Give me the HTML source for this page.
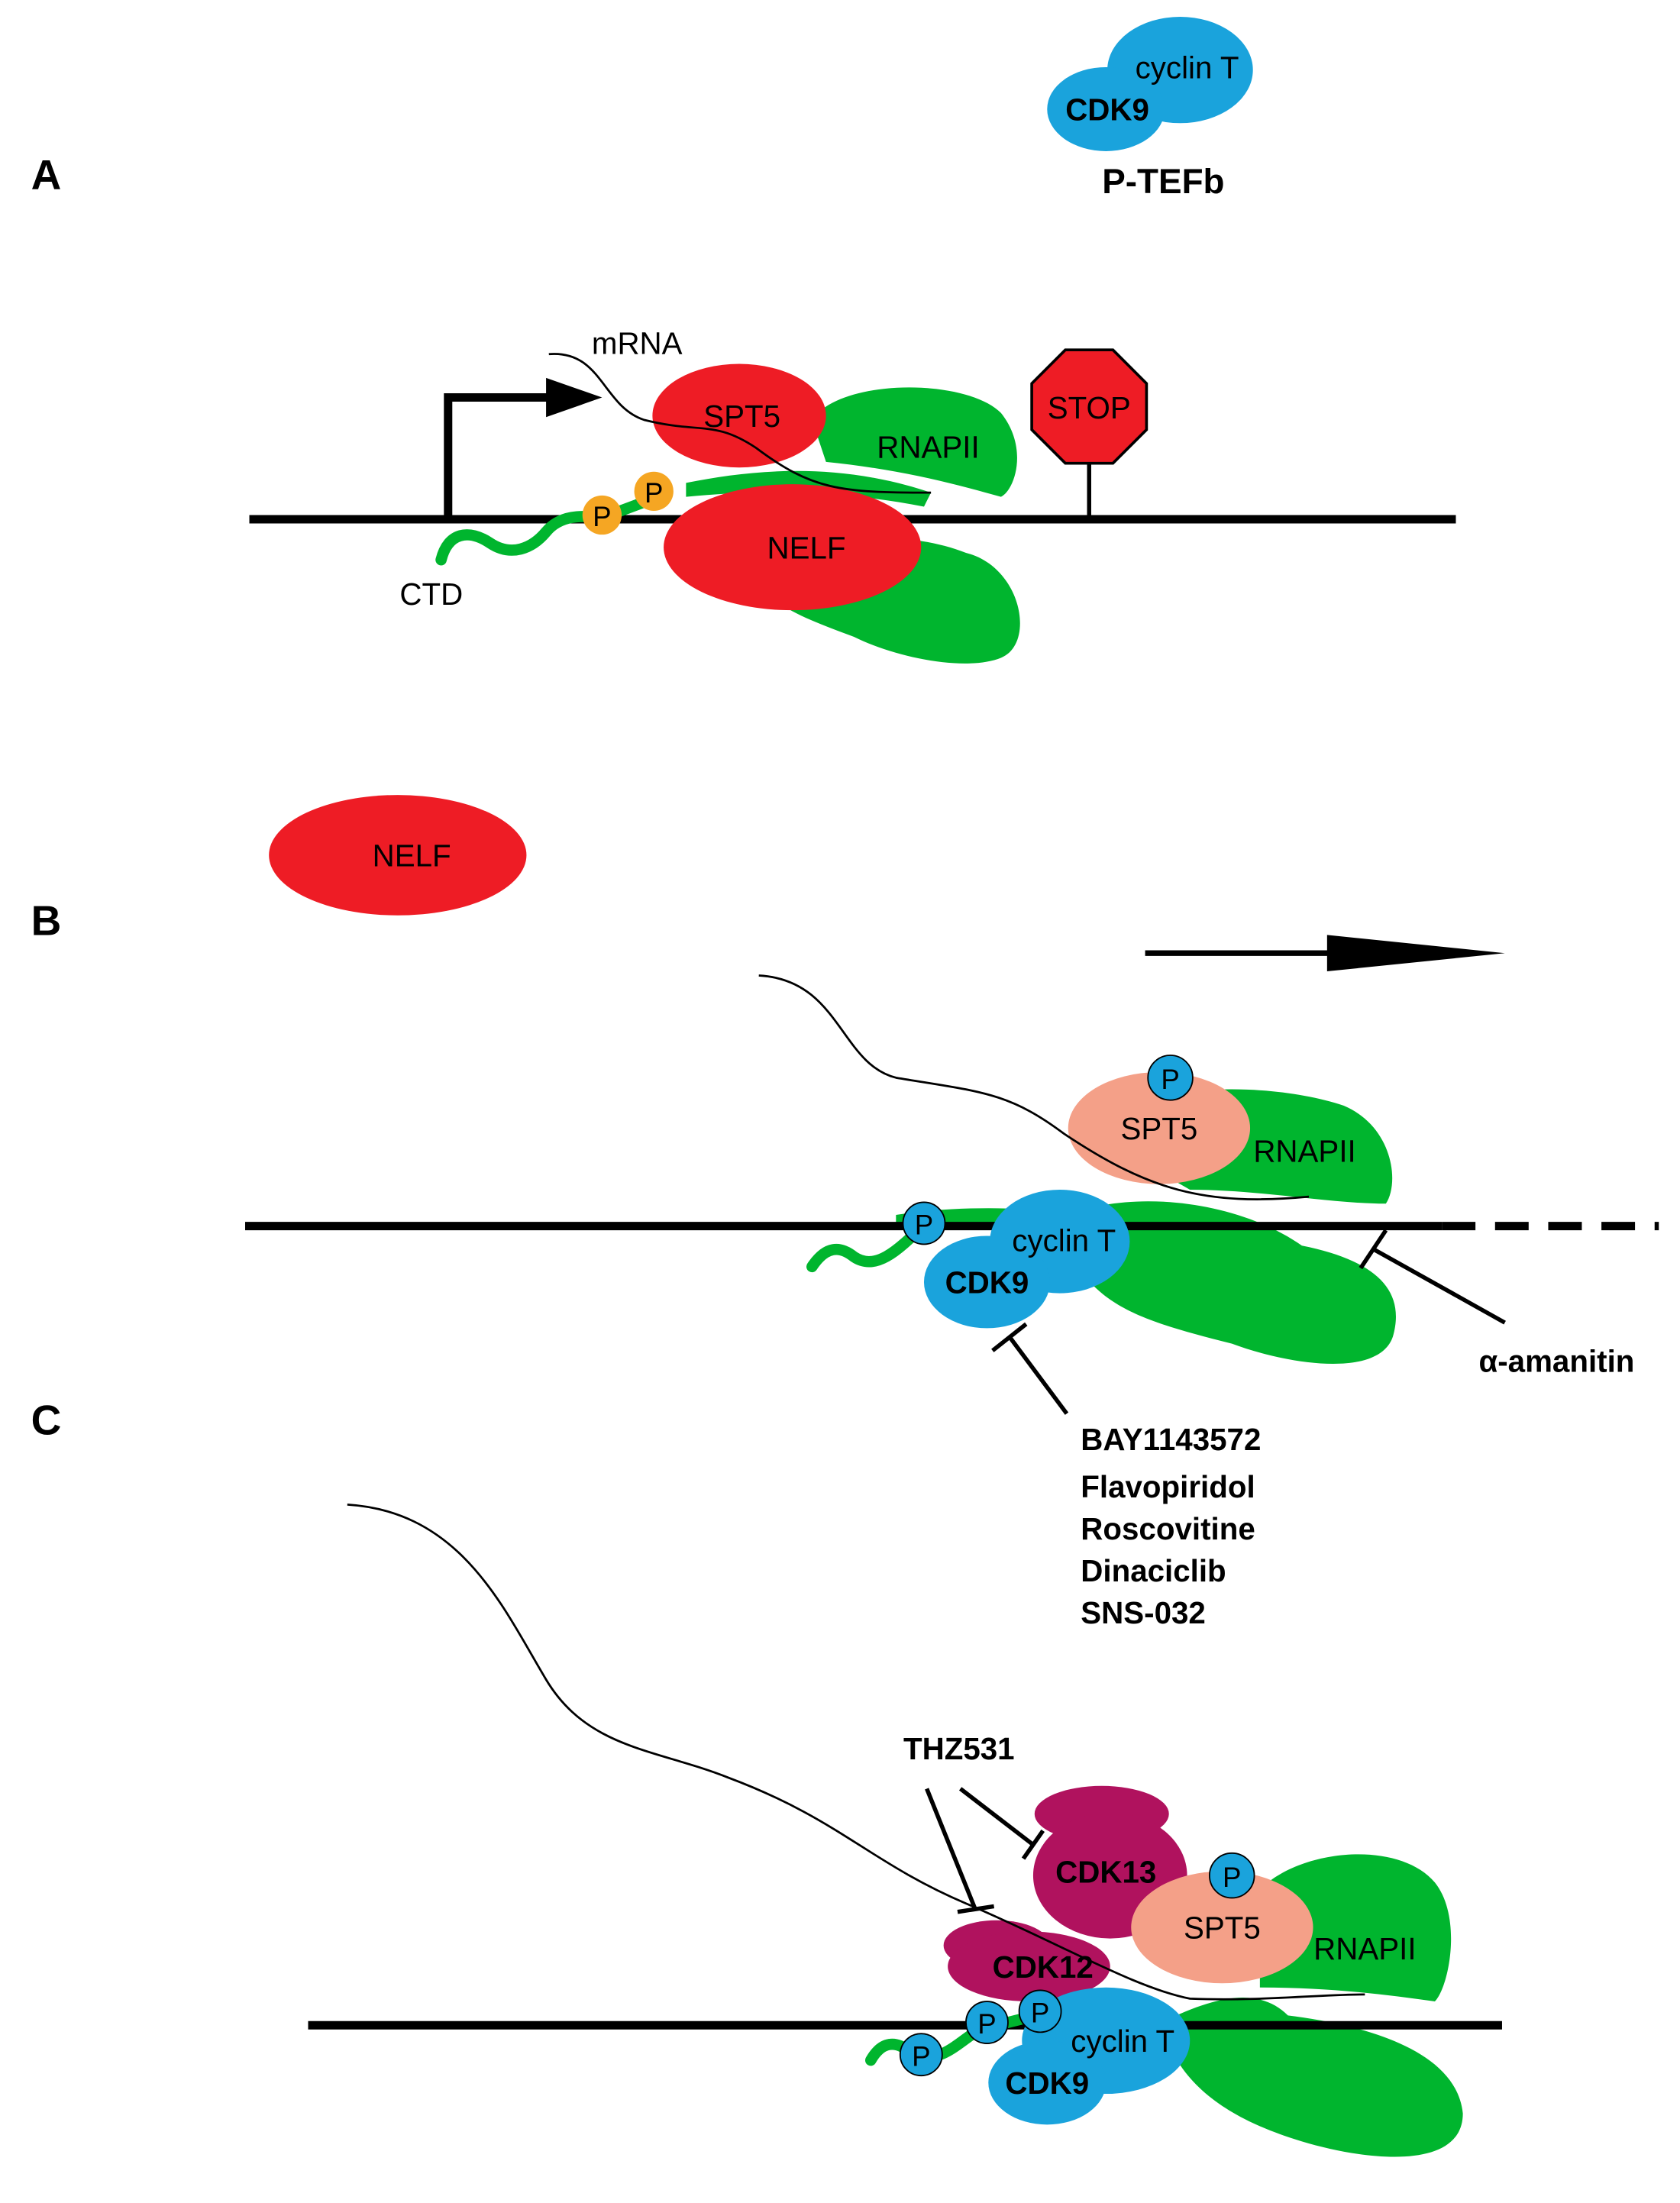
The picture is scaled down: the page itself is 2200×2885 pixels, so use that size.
<!DOCTYPE html>
<html><head><meta charset="utf-8"><style>
html,body{margin:0;padding:0;background:#fff}
svg{display:block}
text{font-family:"Liberation Sans",sans-serif}
</style></head><body>
<svg width="2200" height="2885" viewBox="0 0 1200 1574" xmlns="http://www.w3.org/2000/svg">
<rect width="1200" height="1574" fill="#fff"/>
<g font-weight="bold" font-size="30" fill="#000">
<text x="22" y="135">A</text><text x="22" y="668">B</text><text x="22" y="1025">C</text>
</g>
<!-- P-TEFb -->
<ellipse cx="843" cy="50" rx="52" ry="38" fill="#1aa3dc"/>
<ellipse cx="790" cy="78" rx="42" ry="30" fill="#1aa3dc"/>
<text x="848" y="56" font-size="22" text-anchor="middle">cyclin T</text>
<text x="791" y="86" font-size="22" font-weight="bold" text-anchor="middle">CDK9</text>
<text x="831" y="138" font-size="25" font-weight="bold" text-anchor="middle">P-TEFb</text>

<!-- Panel A -->
<path d="M580 300 C600 270 690 270 715 295 C735 320 725 350 715 355 C680 345 640 335 590 330 Z" fill="#00b52e"/>
<path d="M530 395 C560 385 640 375 690 395 C730 405 740 460 715 470 C690 480 640 470 610 455 C570 440 540 430 530 395 Z" fill="#00b52e"/>
<path d="M490 345 C540 335 600 330 665 352 L660 362 C600 350 540 350 490 355 Z" fill="#00b52e"/>
<line x1="178" y1="371" x2="1040" y2="371" stroke="#000" stroke-width="6"/>
<path d="M320 371 V284 H398" fill="none" stroke="#000" stroke-width="6"/>
<polygon points="390,270 430,284 390,298" fill="#000"/>
<ellipse cx="528" cy="297" rx="62" ry="37" fill="#ee1c25"/>
<ellipse cx="566" cy="391" rx="92" ry="45" fill="#ee1c25"/>
<text x="530" y="305" font-size="22" text-anchor="middle">SPT5</text>
<text x="576" y="399" font-size="22" text-anchor="middle">NELF</text>
<text x="663" y="327" font-size="22" text-anchor="middle">RNAPII</text>
<path d="M392 253 C430 250 430 290 460 300 C500 310 510 300 540 320 C580 350 600 352 665 352" fill="none" stroke="#000" stroke-width="1.5"/>
<path d="M315 400 C320 380 335 378 350 388 C365 398 380 392 390 380 C400 368 415 368 430 370 L470 355" fill="none" stroke="#00b52e" stroke-width="8" stroke-linecap="round"/>
<circle cx="430" cy="368" r="14" fill="#f5a623"/><text x="430" y="376" font-size="20" text-anchor="middle">P</text>
<circle cx="467" cy="351" r="14" fill="#f5a623"/><text x="467" y="359" font-size="20" text-anchor="middle">P</text>
<text x="308" y="432" font-size="22" text-anchor="middle">CTD</text>
<line x1="778" y1="330" x2="778" y2="371" stroke="#000" stroke-width="3"/>
<polygon points="761,250 795,250 819,274 819,307 795,331 761,331 737,307 737,274" fill="#ee1c25" stroke="#000" stroke-width="2"/>
<text x="778" y="299" font-size="22" text-anchor="middle">STOP</text>
<text x="455" y="253" font-size="22" text-anchor="middle">mRNA</text>

<!-- Panel B -->
<ellipse cx="284" cy="611" rx="92" ry="43" fill="#ee1c25"/>
<text x="294" y="619" font-size="22" text-anchor="middle">NELF</text>
<line x1="818" y1="681" x2="955" y2="681" stroke="#000" stroke-width="4"/>
<polygon points="948,668 1075,681 948,694" fill="#000"/>
<path d="M780 810 C800 775 900 770 960 790 C995 805 1000 845 990 860 C950 860 900 850 850 850 Z" fill="#00b52e"/>
<path d="M760 870 C800 850 880 855 930 890 C980 900 1005 920 995 955 C985 985 920 975 880 960 C820 945 790 935 770 905 Z" fill="#00b52e"/>
<path d="M640 868 C680 862 720 862 760 866 L760 880 C720 878 680 878 640 878 Z" fill="#00b52e"/>
<line x1="175" y1="876" x2="1030" y2="876" stroke="#000" stroke-width="6"/>
<line x1="1030" y1="876" x2="1185" y2="876" stroke="#000" stroke-width="6" stroke-dasharray="24,14"/>
<ellipse cx="828" cy="806" rx="65" ry="40" fill="#f4a088"/>
<circle cx="836" cy="770" r="16" fill="#1aa3dc" stroke="#000" stroke-width="1"/><text x="836" y="778" font-size="20" text-anchor="middle">P</text>
<text x="828" y="814" font-size="22" text-anchor="middle">SPT5</text>
<text x="932" y="830" font-size="22" text-anchor="middle">RNAPII</text>
<path d="M542 697 C600 700 600 760 640 770 C700 780 720 780 760 810 C820 850 860 862 935 855" fill="none" stroke="#000" stroke-width="1.5"/>
<ellipse cx="757" cy="887" rx="50" ry="37" fill="#1aa3dc"/>
<ellipse cx="705" cy="916" rx="45" ry="33" fill="#1aa3dc"/>
<text x="760" y="894" font-size="22" text-anchor="middle">cyclin T</text>
<text x="705" y="924" font-size="22" font-weight="bold" text-anchor="middle">CDK9</text>
<path d="M580 905 C590 890 600 890 610 898 C625 908 640 895 660 875" fill="none" stroke="#00b52e" stroke-width="8" stroke-linecap="round"/>
<circle cx="660" cy="874" r="15" fill="#1aa3dc" stroke="#000" stroke-width="1"/><text x="660" y="882" font-size="20" text-anchor="middle">P</text>
<line x1="1075" y1="945" x2="982" y2="893" stroke="#000" stroke-width="3"/>
<line x1="972" y1="906" x2="990" y2="879" stroke="#000" stroke-width="3"/>
<text x="1112" y="980" font-size="22" font-weight="bold" text-anchor="middle">α-amanitin</text>
<line x1="762" y1="1010" x2="721" y2="955" stroke="#000" stroke-width="3"/>
<line x1="709" y1="965" x2="733" y2="946" stroke="#000" stroke-width="3"/>
<g font-size="22" font-weight="bold">
<text x="772" y="1036">BAY1143572</text><text x="772" y="1070">Flavopiridol</text>
<text x="772" y="1100">Roscovitine</text><text x="772" y="1130">Dinaciclib</text><text x="772" y="1160">SNS-032</text>
</g>

<!-- Panel C -->
<path d="M900 1350 C930 1320 1000 1315 1025 1345 C1045 1370 1035 1420 1025 1430 C990 1425 950 1420 900 1420 Z" fill="#00b52e"/>
<path d="M830 1445 C870 1425 900 1420 920 1440 C960 1445 1040 1460 1045 1510 C1045 1550 980 1545 930 1530 C880 1515 840 1490 830 1445 Z" fill="#00b52e"/>
<line x1="220" y1="1447" x2="1073" y2="1447" stroke="#000" stroke-width="6"/>
<ellipse cx="787" cy="1296" rx="48" ry="20" fill="#b0125e"/>
<ellipse cx="793" cy="1340" rx="55" ry="45" fill="#b0125e"/>
<ellipse cx="712" cy="1390" rx="38" ry="18" fill="#b0125e"/>
<ellipse cx="735" cy="1405" rx="58" ry="25" fill="#b0125e"/>
<text x="790" y="1345" font-size="22" font-weight="bold" text-anchor="middle">CDK13</text>
<text x="745" y="1413" font-size="22" font-weight="bold" text-anchor="middle">CDK12</text>
<ellipse cx="873" cy="1377" rx="65" ry="40" fill="#f4a088"/>
<circle cx="880" cy="1340" r="16" fill="#1aa3dc" stroke="#000" stroke-width="1"/><text x="880" y="1348" font-size="20" text-anchor="middle">P</text>
<text x="873" y="1385" font-size="22" text-anchor="middle">SPT5</text>
<text x="975" y="1400" font-size="22" text-anchor="middle">RNAPII</text>
<path d="M248 1075 C330 1080 360 1150 390 1200 C420 1250 470 1250 520 1270 C600 1300 620 1330 690 1360 C760 1390 810 1420 850 1428 C900 1430 940 1425 975 1425" fill="none" stroke="#000" stroke-width="1.5"/>
<ellipse cx="790" cy="1458" rx="60" ry="38" fill="#1aa3dc"/>
<ellipse cx="748" cy="1488" rx="42" ry="30" fill="#1aa3dc"/>
<text x="802" y="1466" font-size="22" text-anchor="middle">cyclin T</text>
<text x="748" y="1496" font-size="22" font-weight="bold" text-anchor="middle">CDK9</text>
<path d="M622 1472 C630 1458 640 1458 650 1466 C670 1478 685 1458 700 1450 L740 1440" fill="none" stroke="#00b52e" stroke-width="8" stroke-linecap="round"/>
<circle cx="658" cy="1468" r="15" fill="#1aa3dc" stroke="#000" stroke-width="1"/><text x="658" y="1476" font-size="20" text-anchor="middle">P</text>
<circle cx="705" cy="1445" r="15" fill="#1aa3dc" stroke="#000" stroke-width="1"/><text x="705" y="1453" font-size="20" text-anchor="middle">P</text>
<circle cx="743" cy="1437" r="15" fill="#1aa3dc" stroke="#000" stroke-width="1"/><text x="743" y="1445" font-size="20" text-anchor="middle">P</text>
<text x="685" y="1257" font-size="22" font-weight="bold" text-anchor="middle">THZ531</text>
<line x1="662" y1="1278" x2="697" y2="1365" stroke="#000" stroke-width="3"/>
<line x1="684" y1="1366" x2="710" y2="1362" stroke="#000" stroke-width="3"/>
<line x1="686" y1="1278" x2="738" y2="1318" stroke="#000" stroke-width="3"/>
<line x1="731" y1="1328" x2="745" y2="1308" stroke="#000" stroke-width="3"/>
</svg>
</body></html>
